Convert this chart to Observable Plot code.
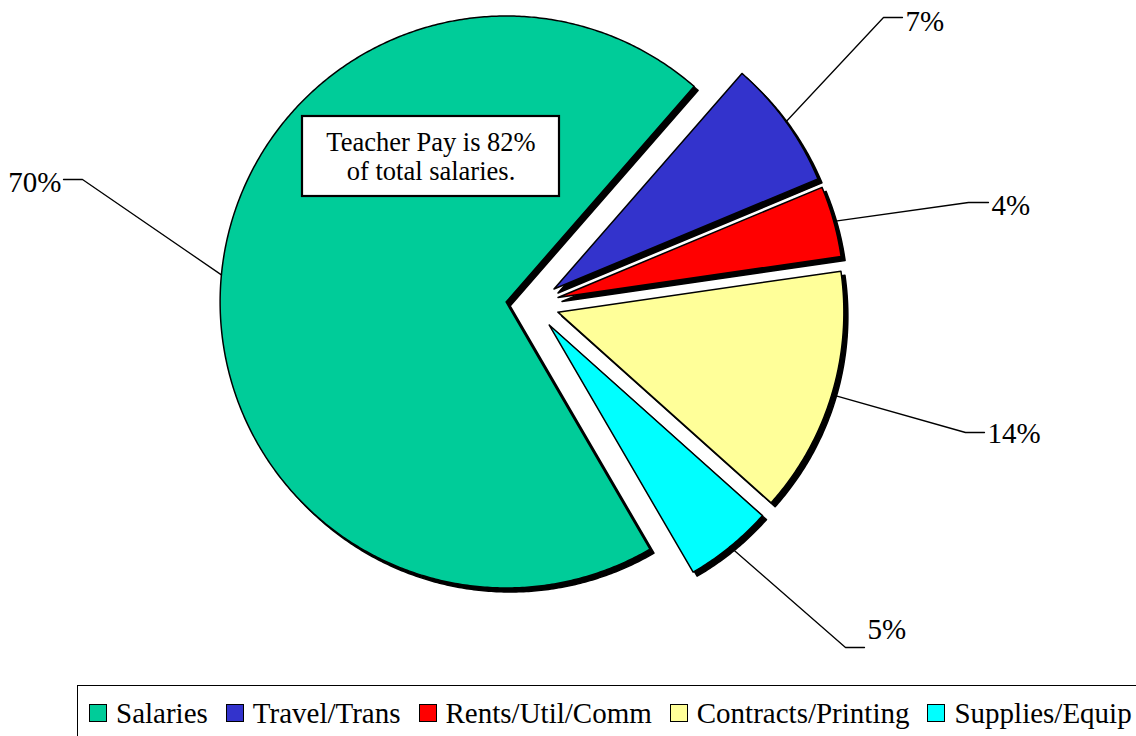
<!DOCTYPE html>
<html><head><meta charset="utf-8">
<script src="https://cdn.jsdelivr.net/npm/d3@7"></script>
<script src="https://cdn.jsdelivr.net/npm/@observablehq/plot@0.6"></script>
<style>
html,body{margin:0;padding:0;background:#fff;}
body{width:1136px;height:736px;overflow:hidden;position:relative;font-family:"Liberation Serif",Tinos,"Times New Roman",Times,"DejaVu Serif",serif;}
#chart{position:absolute;left:0;top:0;}
#legend{position:absolute;left:77px;top:685px;width:1200px;height:70px;border:1.5px solid #000;box-sizing:border-box;
  display:flex;align-items:flex-start;padding:9px 0 0 11px;white-space:nowrap;font-size:29px;color:#000;}
.item{display:flex;align-items:center;height:36px;margin-right:18px;}
.sw{display:inline-block;width:16px;height:16px;border:1.5px solid #000;margin-right:9px;}
</style></head><body>
<div id="chart"></div><div id="legend"></div>
<script>
// ---- data ----
const categories = ["Salaries", "Travel/Trans", "Rents/Util/Comm", "Contracts/Printing", "Supplies/Equip"];
const shares = [69.8, 7.3, 4.0, 13.9, 5.0];
const colors = ["#00CC99", "#3333CC", "#FF0000", "#FFFF99", "#00FFFF"];
const noteLines = ["Teacher Pay is 82%", "of total salaries."];

// ---- layout ----
const W = 1136, H = 680;
const center = [532, 304], R = 286, explode = 26.5, startDeg = 149.8;
const labelElbow = [[82, 179], [883, 17], [968, 202], [965, 432], [845, 647]];
const labelTail = [-19, 19, 20, 19, 19];
const labelDy = [3, 4, 3, 1, -18];
const noteBox = {x1: 302, x2: 559, y1: 116, y2: 196};
const serif = "'Liberation Serif', Tinos, 'Times New Roman', Times, 'DejaVu Serif', serif";

const total = d3.sum(shares);
const rad = d => d * Math.PI / 180;
let cum = 0;
const slices = categories.map((name, i) => {
  const a0 = startDeg + cum / total * 360;
  cum += shares[i];
  const a1 = startDeg + cum / total * 360;
  const mid = (a0 + a1) / 2;
  const ax = center[0] + explode * Math.sin(rad(mid));
  const ay = center[1] - explode * Math.cos(rad(mid));
  return {name, share: shares[i], a0, a1, mid, ax, ay, i};
});

const polyRows = [];
for (const s of slices) {
  polyRows.push({name: s.name, x: s.ax, y: s.ay});
  const n = Math.max(2, Math.ceil((s.a1 - s.a0) / 0.5));
  for (let k = 0; k <= n; k++) {
    const a = rad(s.a0 + (s.a1 - s.a0) * k / n);
    polyRows.push({name: s.name, x: s.ax + R * Math.sin(a), y: s.ay - R * Math.cos(a)});
  }
  polyRows.push({name: s.name, x: s.ax, y: s.ay});
}

const leaderRows = [];
const labelRows = [];
for (const s of slices) {
  const px = s.ax + R * Math.sin(rad(s.mid)), py = s.ay - R * Math.cos(rad(s.mid));
  const [ex, ey] = labelElbow[s.i];
  const tx = ex + labelTail[s.i];
  leaderRows.push({name: s.name, x: px, y: py}, {name: s.name, x: ex, y: ey}, {name: s.name, x: tx, y: ey});
  labelRows.push({x: tx + (labelTail[s.i] < 0 ? -2 : 3), y: ey + labelDy[s.i],
    text: Math.round(s.share) + "%", anchor: labelTail[s.i] < 0 ? "end" : "start"});
}

const plot = Plot.plot({
  width: W, height: H, margin: 0,
  x: {type: "linear", domain: [0, W], range: [0, W], axis: null},
  y: {type: "linear", domain: [0, H], range: [0, H], axis: null},
  color: {domain: categories, range: colors},
  style: {fontFamily: serif, background: "#fff", color: "#000"},
  marks: [
    Plot.line(polyRows, {x: "x", y: "y", z: "name", fill: "#000", stroke: "#000", strokeWidth: 1.5, dx: 4, dy: 4, curve: "linear"}),
    Plot.line(polyRows, {x: "x", y: "y", z: "name", fill: "name", stroke: "#000", strokeWidth: 1.5, curve: "linear"}),
    Plot.line(leaderRows, {x: "x", y: "y", z: "name", stroke: "#000", strokeWidth: 1.3, curve: "linear"}),
    Plot.text(labelRows.filter(d => d.anchor === "start"), {x: "x", y: "y", text: "text", textAnchor: "start", fontSize: 29, fontFamily: serif, fill: "#000"}),
    Plot.text(labelRows.filter(d => d.anchor === "end"), {x: "x", y: "y", text: "text", textAnchor: "end", fontSize: 29, fontFamily: serif, fill: "#000"}),
    Plot.rect([noteBox], {x1: "x1", x2: "x2", y1: "y1", y2: "y2", fill: "#fff", stroke: "#000", strokeWidth: 2.2}),
    Plot.text([noteLines.join("\n")], {x: (noteBox.x1 + noteBox.x2) / 2, y: (noteBox.y1 + noteBox.y2) / 2, text: d => d, fontSize: 26.5, fontFamily: serif, lineHeight: 1.1, fill: "#000"})
  ]
});
document.getElementById("chart").appendChild(plot);

const colorScale = plot.scale("color");
const legend = document.getElementById("legend");
colorScale.domain.forEach((name, i) => {
  const item = document.createElement("div");
  item.className = "item";
  const sw = document.createElement("span");
  sw.className = "sw";
  sw.style.background = colorScale.range[i];
  const t = document.createElement("span");
  t.textContent = name;
  item.appendChild(sw); item.appendChild(t);
  legend.appendChild(item);
});
</script>
</body></html>
